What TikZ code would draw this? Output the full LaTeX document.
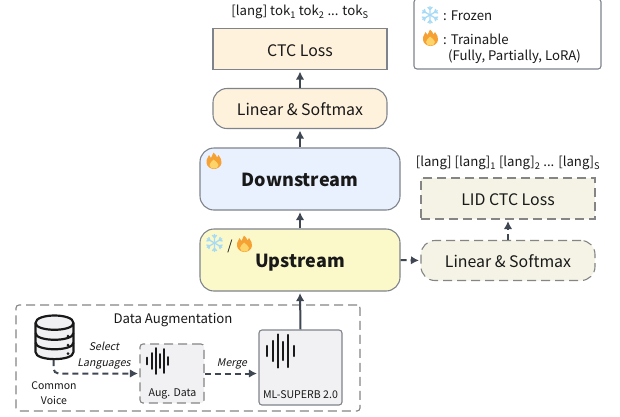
\documentclass[tikz,border=0pt]{standalone}
\usepackage{fontspec}
\setmainfont{Noto Sans CJK SC}
\newfontfamily\slantf[FakeSlant=0.2]{Noto Sans CJK SC}
\usetikzlibrary{arrows.meta,calc}
\definecolor{edge}{HTML}{7F848C}
\definecolor{dashc}{HTML}{858585}
\definecolor{arrowc}{HTML}{3F4753}
\definecolor{fillcream}{HTML}{FFF2DC}
\definecolor{fillblue}{HTML}{EAF1FE}
\definecolor{fillyellow}{HTML}{FBF9C9}
\definecolor{fillolive}{HTML}{F4F3E5}
\definecolor{fillgray}{HTML}{F1F1F3}
\definecolor{snowc}{HTML}{A6DAF6}
\definecolor{flameo}{HTML}{F5A133}
\definecolor{flamey}{HTML}{FCD46A}
\newcommand{\lowtext}[2]{\raisebox{-#1pt}[0pt][0pt]{#2}}
\tikzset{
  x=1pt,y=-1pt,
  box/.style={draw=edge,line width=1.1pt,minimum width=#1,inner sep=0pt,align=center,text=black!90},
  conn/.style={draw=arrowc,line width=2pt,-{Latex[length=8pt,width=8.5pt]},shorten >=1.5pt},
  dconn/.style={conn,dash pattern=on 6pt off 4pt},
  dashbox/.style={draw=dashc,dash pattern=on 9pt off 5pt},
  lbl/.style={inner sep=0pt,text=black!90},
  flame/.pic={
    \fill[flameo] (-7.5,2) .. controls (-8,-2) and (-6,-3) .. (-5,-6) .. controls (-3.5,-4.5) and (-3.5,-4) .. (-3,-3) .. controls (-2,-5) and (-1,-6) .. (-0.5,-8.5) .. controls (2,-6) and (2.5,-5) .. (3,-3.5) .. controls (3.5,-4.5) and (4,-5) .. (4.5,-6) .. controls (6.5,-3) and (8,-1) .. (7.5,2) .. controls (7,6) and (3,8) .. (0,8) .. controls (-3,8) and (-7,6) .. (-7.5,2) -- cycle;
    \fill[flamey] (-4.5,4) .. controls (-4.5,1.5) and (-2,1) .. (-0.5,-1.5) .. controls (1,0.5) and (4.5,1.5) .. (4.5,4) .. controls (4.5,6.5) and (2,7.6) .. (0,7.6) .. controls (-2,7.6) and (-4.5,6.5) .. (-4.5,4) -- cycle;
  },
  snow/.pic={
    \foreach \a in {90,150,210,270,330,30}{
      \draw[snowc,line width=1.3pt,line cap=round] (0,0) -- ({\a}:8.5)
        ({8.5*0.62*cos(\a)},{8.5*0.62*sin(\a)}) -- ++({\a+40}:3.2)
        ({8.5*0.62*cos(\a)},{8.5*0.62*sin(\a)}) -- ++({\a-40}:3.2);
    }
  },
  wave/.style={line width=#1,black!90,line cap=round},
  mainlbl/.style={font=\fontsize{15.9}{19}\selectfont},
  boldlbl/.style={font=\fontsize{18}{21}\selectfont\bfseries},
  seqlbl/.style={lbl,font=\fontsize{13.2}{16}\selectfont},
  smalllbl/.style={lbl,font=\fontsize{10.6}{13}\selectfont},
  ital/.style={lbl,font=\fontsize{10.6}{16}\slantf},
}
\begin{document}
\begin{tikzpicture}
\useasboundingbox[fill=white] (0,0) rectangle (620,416);
% nodes
\node[box=174pt,minimum height=41pt,fill=fillcream,mainlbl] (ctc) at (300,49) {\lowtext{7}{CTC Loss}};
\node[box=174pt,minimum height=40pt,rounded corners=14pt,fill=fillcream,mainlbl] (lin) at (300,108.5) {\lowtext{7}{Linear \& Softmax}};
\node[box=200pt,minimum height=62pt,rounded corners=14pt,fill=fillblue,boldlbl] (down) at (300,179) {\lowtext{7}{Downstream}};
\node[box=200pt,minimum height=62pt,rounded corners=14pt,fill=fillyellow,boldlbl] (up) at (300,260) {\lowtext{7.3}{Upstream}};
\node[box=174pt,minimum height=41pt,dashbox,fill=fillolive,mainlbl] (lid) at (508,198.5) {\lowtext{7.2}{LID CTC Loss}};
\node[box=174pt,minimum height=40pt,dashbox,rounded corners=14pt,fill=fillolive,mainlbl] (lin2) at (508,260.5) {\lowtext{6.5}{Linear \& Softmax}};
\node[box=344pt,minimum height=106pt,dashbox,rounded corners=3pt,fill=white] (da) at (188,358) {};
\node[box=83pt,minimum height=75pt,rounded corners=3pt,fill=fillgray] (ml) at (300.5,367.5) {};
\node[box=64pt,minimum height=59pt,rounded corners=3pt,dashbox,fill=fillgray] (aug) at (172,373.5) {};
\coordinate (dbs) at (53.5,360);
% legend
\node[box=187pt,minimum height=70pt,rounded corners=3pt,fill=white] (leg) at (507.5,34) {};
% labels
\node[seqlbl] (t1) at (300,12) {[lang] tok$_{\mathrm{1}}$ tok$_{\mathrm{2}}$ ... tok$_{\mathrm{S}}$};
\node[seqlbl] (t2) at (508,163) {[lang] [lang]$_{\mathrm{1}}$ [lang]$_{\mathrm{2}}$ ... [lang]$_{\mathrm{S}}$};
\node[seqlbl] (dat) at (173,320) {Data Augmentation};
\node[ital,align=center] (sel) at (104,356) {Select\\Languages};
\node[ital] (mer) at (232,364) {Merge};
\node[smalllbl,align=center,font=\fontsize{10.5}{15}\selectfont] (cv) at (54,393.5) {Common\\Voice};
\node[smalllbl] (augt) at (172.5,393.5) {Aug. Data};
\node[smalllbl] (mlt) at (300.5,394.5) {ML-SUPERB 2.0};
\node[seqlbl,anchor=west] (l1) at (443,16) {: Frozen};
\node[seqlbl,anchor=west] (l2) at (443,39) {: Trainable};
\node[seqlbl,anchor=west] (l3) at (448,56.5) {(Fully, Partially, LoRA)};
\node[seqlbl] (sl) at (230,246) {/};
% connectors
\draw[conn] (lin.north) -- (ctc.south);
\draw[conn] (down.north) -- (lin.south);
\draw[conn] (up.north) -- (down.south);
\draw[conn] (ml.north) -- (up.south);
\draw[dconn] (up.east) -- (lin2.west);
\draw[dconn] (lin2.north) -- (lid.south);
\draw[dconn,rounded corners=5pt] (dbs) |- (aug.west);
\draw[dconn] (aug.east) -- (ml.west |- aug.east);
% database
\draw[draw=black!90,line width=2.2pt,fill=fillgray] (35.5,323) .. controls (35.5,313) and (73.5,313) .. (73.5,323)
  -- (73.5,352) .. controls (73.5,361.5) and (35.5,361.5) .. (35.5,352) -- cycle;
\draw[draw=black!90,line width=2.2pt] (35.5,323) .. controls (35.5,332) and (73.5,332) .. (73.5,323);
\draw[draw=black!90,line width=2.2pt] (35.5,333) .. controls (35.5,342) and (73.5,342) .. (73.5,333);
\draw[draw=black!90,line width=2.2pt] (35.5,342.5) .. controls (35.5,351.5) and (73.5,351.5) .. (73.5,342.5);
\foreach \yy in {336,345,353.5}{\fill[black!90] (68,\yy) circle (1.5);}
% waves
\foreach \xx/\hh in {147/7,152/16,156/26,160/14,164/24,168/8}{
  \draw[wave=1.9pt] (\xx,361-\hh/2) -- (\xx,361+\hh/2);
}
\foreach \xx/\hh in {267/10,273/20,278/33,283/18,288/32,294/10}{
  \draw[wave=2.3pt] (\xx,351-\hh/2) -- (\xx,351+\hh/2);
}
% icons
\pic at (214,161) {flame};
\pic at (214.5,243) {snow};
\pic at (244.5,244) {flame};
\pic at (430,15) {snow};
\pic at (430.5,38) {flame};
\end{tikzpicture}
\end{document}
